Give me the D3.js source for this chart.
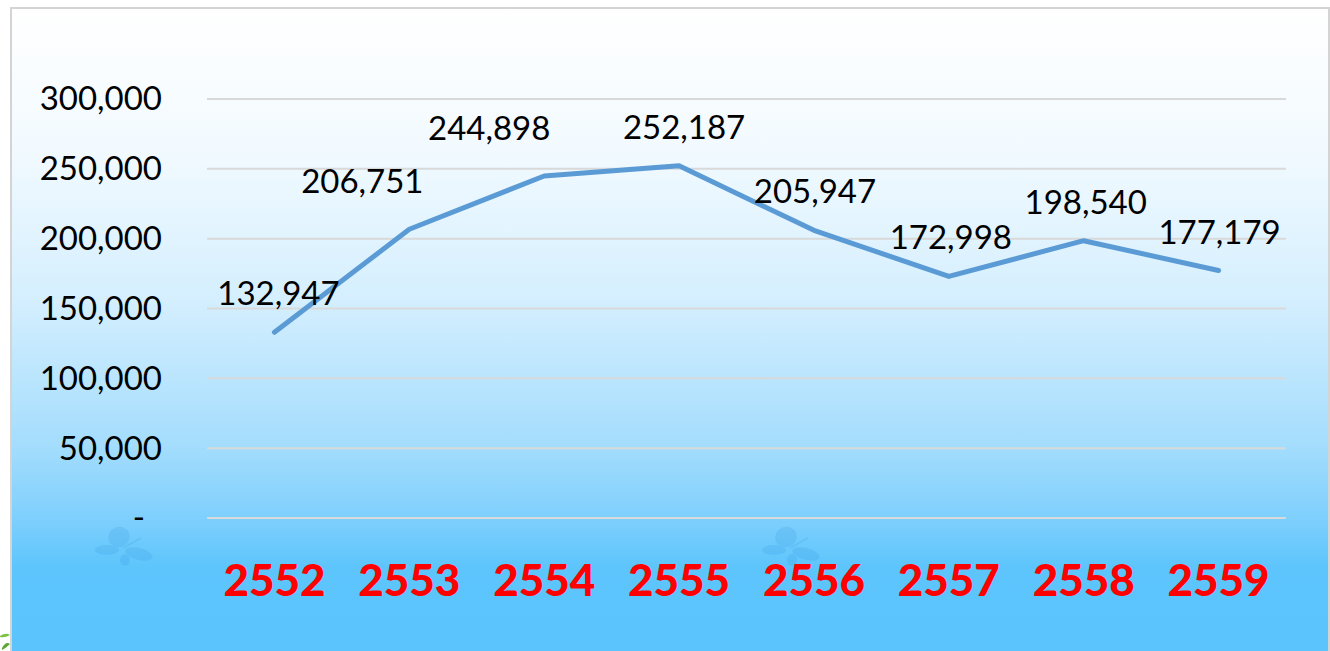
<!DOCTYPE html>
<html>
<head>
<meta charset="utf-8">
<script src="https://cdn.jsdelivr.net/npm/d3@7"></script>
<style>
  html, body { margin: 0; padding: 0; background: #ffffff; }
  svg { display: block; }
</style>
</head>
<body>
<svg id="chart" width="1330" height="651"></svg>
<script>
// ---- data ----
const years = ["2552", "2553", "2554", "2555", "2556", "2557", "2558", "2559"];
const values = [132947, 206751, 244898, 252187, 205947, 172998, 198540, 177179];
const yTicks = [0, 50000, 100000, 150000, 200000, 250000, 300000];

// ---- layout ----
const W = 1330, H = 651;
const plot = { left: 207, right: 1286, top: 99, bottom: 518 };
const svg = d3.select("#chart");
const defs = svg.append("defs");

const grad = defs.append("linearGradient")
  .attr("id", "bg").attr("gradientUnits", "userSpaceOnUse")
  .attr("x1", 0).attr("y1", 8).attr("x2", 0).attr("y2", 651);
[[0, "#ffffff"], [0.22, "#f2faff"], [0.45, "#d5effe"], [0.68, "#a4ddfd"],
 [0.79, "#80d0fd"], [0.87, "#5dc5fc"], [1, "#5bc4fc"]]
  .forEach(([o, c]) => grad.append("stop").attr("offset", o).attr("stop-color", c));

// frame
svg.append("rect").attr("x", 11).attr("y", 8).attr("width", 1318).attr("height", 660)
  .attr("fill", "url(#bg)").attr("stroke", "#d4d4d4").attr("stroke-width", 2);

// faint leaf at bottom-left corner
svg.append("path").attr("d", "M0,636 Q6,632 10,635 Q5,638 0,637 Z").attr("fill", "#7cc242");
svg.append("path").attr("d", "M2,648 Q6,641 10,644 Q6,648 2,650 Z").attr("fill", "#5aa832");

// faint butterflies
function butterfly(cx, cy) {
  const g = svg.append("g").attr("opacity", 0.16).attr("fill", "#2a8fd8");
  g.append("ellipse").attr("cx", cx - 4).attr("cy", cy - 9).attr("rx", 11).attr("ry", 10)
    .attr("transform", `rotate(-20 ${cx - 4} ${cy - 9})`);
  g.append("ellipse").attr("cx", cx - 16).attr("cy", cy + 4).attr("rx", 12).attr("ry", 5);
  g.append("ellipse").attr("cx", cx + 16).attr("cy", cy + 8).attr("rx", 14).attr("ry", 6)
    .attr("transform", `rotate(15 ${cx + 16} ${cy + 8})`);
  g.append("ellipse").attr("cx", cx + 2).attr("cy", cy + 14).attr("rx", 5).attr("ry", 6);
  g.append("line").attr("x1", cx).attr("y1", cy + 2).attr("x2", cx + 18).attr("y2", cy - 8)
    .attr("stroke", "#2a8fd8").attr("stroke-width", 2);
}
butterfly(123, 546);
butterfly(790, 546);

// scales
const x = d3.scaleBand().domain(years).range([plot.left, plot.right]);
const y = d3.scaleLinear().domain([0, 300000]).range([plot.bottom, plot.top]);

// gridlines
svg.append("g").selectAll("line").data(yTicks).join("line")
  .attr("x1", plot.left).attr("x2", plot.right)
  .attr("y1", d => y(d)).attr("y2", d => y(d))
  .attr("stroke", "#d9d9d9").attr("stroke-width", 2);

// y axis labels
const fmt = d3.format(",");
const yAxis = svg.append("g").attr("transform", `translate(162,0)`)
  .call(d3.axisLeft(y).tickValues(yTicks).tickSize(0).tickPadding(0)
    .tickFormat(d => d === 0 ? "-" : fmt(d)));
yAxis.select(".domain").remove();
yAxis.selectAll("text")
  .attr("font-family", "Lato, 'Open Sans', sans-serif")
  .attr("font-size", 33).attr("fill", "#000").attr("dy", "0.33em")
  .attr("dx", d => d === 0 ? -17 : 0);

// x axis labels
const xAxis = svg.append("g").attr("transform", `translate(0,${plot.bottom})`)
  .call(d3.axisBottom(x).tickSize(0).tickPadding(0));
xAxis.select(".domain").remove();
xAxis.selectAll("text")
  .attr("font-family", "Lato, 'Open Sans', sans-serif")
  .attr("font-weight", "900").attr("font-size", 44).attr("fill", "#ff0000")
  .attr("dy", 0).attr("y", 78);

// line
const cx = d => x(d) + x.bandwidth() / 2;
const line = d3.line().x((d, i) => cx(years[i])).y(d => y(d));
svg.append("path").datum(values).attr("d", line)
  .attr("fill", "none").attr("stroke", "#5b9bd5").attr("stroke-width", 5)
  .attr("stroke-linecap", "round").attr("stroke-linejoin", "round");

// data labels (two were moved by hand in the original)
const labelNudge = [[4, 0], [-47, -9], [-55, -9], [5, 0], [1, 0], [2, 0], [2, 0], [1, 0]];
svg.append("g").selectAll("text").data(values).join("text")
  .attr("x", (d, i) => cx(years[i]) + labelNudge[i][0])
  .attr("y", (d, i) => y(d) - 27 + labelNudge[i][1])
  .attr("text-anchor", "middle")
  .attr("font-family", "Lato, 'Open Sans', sans-serif")
  .attr("font-size", 33).attr("fill", "#000")
  .text(d => fmt(d));
</script>
</body>
</html>
